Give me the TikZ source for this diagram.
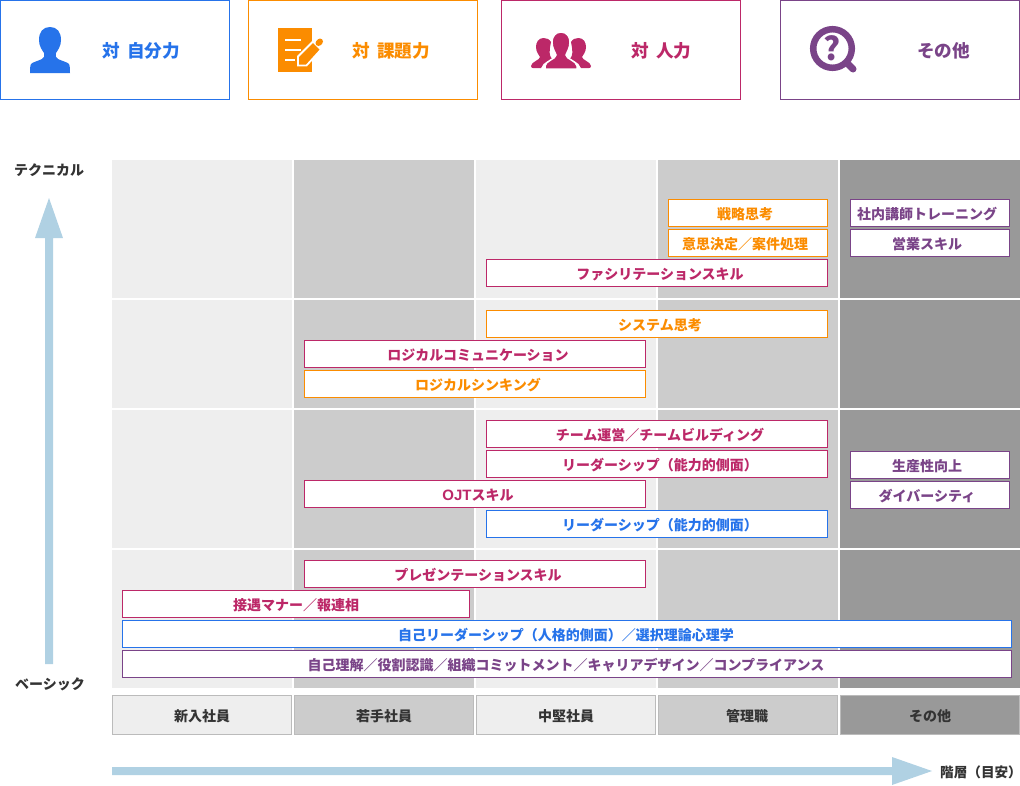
\documentclass[tikz,border=0pt]{standalone}
\usepackage{fontspec}
\setmainfont{Noto Sans CJK JP}
\newfontfamily\latinbold{Liberation Sans}
\definecolor{cblue}{HTML}{2673EA}
\definecolor{corange}{HTML}{FB8C00}
\definecolor{cmag}{HTML}{BC2868}
\definecolor{cpur}{HTML}{7A4488}
\definecolor{cdark}{HTML}{333333}
\definecolor{carrow}{HTML}{B0D1E3}
\definecolor{gl}{HTML}{EEEEEE}
\definecolor{gm}{HTML}{CCCCCC}
\definecolor{gd}{HTML}{999999}
\definecolor{gb}{HTML}{BBBBBB}
\newcommand{\dn}[1]{\raisebox{-1pt}[\height][\depth]{#1}}
\newcommand{\tR}[1]{\dn{\hspace{6pt}#1}}
\newcommand{\tL}[1]{\dn{#1\hspace{6pt}}}
\newcommand{\tC}[1]{\dn{#1}}
\newcommand{\tl}[1]{\dn{#1\hspace{2pt}}}
\tikzset{
  hdr/.style={fill=#1,draw=gb,line width=1pt,minimum width=179pt,minimum height=39pt,inner sep=0pt,text=cdark,font=\fontsize{14pt}{14pt}\selectfont\bfseries},
  tag/.style={fill=white,draw=#1,text=#1,line width=1pt,minimum height=27pt,inner sep=0pt,font=\fontsize{14pt}{14pt}\selectfont\bfseries},
  legend/.style={fill=white,draw=#1,line width=1pt,minimum height=99pt,inner sep=0pt},
  legtext/.style={text=#1,inner sep=0pt,font=\fontsize{17.6pt}{17.6pt}\selectfont\bfseries},
  lab/.style={text=cdark,inner sep=0pt,font=\fontsize{14pt}{14pt}\selectfont\bfseries},
}
\begin{document}
\begin{tikzpicture}[x=1pt,y=-1pt]
\useasboundingbox (0,0) rectangle (1020,785);
% grid
\foreach \yy/\hh in {160/138,300/108,410/138,550/138}{
  \foreach \xx/\cc in {112/gl,294/gm,476/gl,658/gm,840/gd}{
    \fill[\cc] (\xx,\yy) rectangle ++(180,\hh);
  }
}
% legend
\node[legend=cblue,minimum width=229pt] (l1) at (115,50) {};
\node[legend=corange,minimum width=229pt] (l2) at (363,50) {};
\node[legend=cmag,minimum width=239pt] (l3) at (621,50) {};
\node[legend=cpur,minimum width=239pt] (l4) at (900,50) {};
\node[legtext=cblue] (t1) at (141.5,50.5) {対\hspace{7pt}自分力};
\node[legtext=corange] (t2) at (391.5,50.5) {対\hspace{7pt}課題力};
\node[legtext=cmag] (t3) at (661.5,50.5) {対\hspace{7pt}人力};
\node[legtext=cpur] (t4) at (943.5,50.5) {その他};
% person icon
\fill[cblue] (50,27) .. controls (43,27) and (39,32) .. (39,40)
  .. controls (39,46) and (42,50) .. (44,53) .. controls (45,56) and (44,58) .. (42,59)
  .. controls (38,61) and (33,62) .. (31,64) .. controls (30,66) and (30,70) .. (30,73)
  -- (70,73) .. controls (70,70) and (70,66) .. (69,64) .. controls (67,62) and (62,61) .. (58,59)
  .. controls (56,58) and (55,56) .. (56,53) .. controls (58,50) and (61,46) .. (61,40)
  .. controls (61,32) and (57,27) .. (50,27) -- cycle;
% document icon
\fill[corange] (278,28) rectangle (312,72);
\fill[white] (285,39) rectangle (301,41);
\fill[white] (285,49) rectangle (301,51);
\fill[white] (285,59) rectangle (295,61);
\draw[white,fill=corange,line width=1.8pt,line join=miter] (298,65.5) -- (298,56.5) -- (313,41.5) -- (321,49.5) -- (306.5,65.5) -- cycle;
\draw[corange,line width=6pt,line cap=round] (318.5,43) -- (320,41.5);
% group icon
\fill[cmag] (543.5,38) .. controls (538,38) and (536,43) .. (536,47) .. controls (536,52) and (539,55) .. (540,57)
  .. controls (540,60) and (531,62) .. (531,66) .. controls (531,67.5) and (532,68) .. (533,68) -- (541,68)
  .. controls (542,65) and (543,63) .. (552,59) .. controls (549,55) and (549,52) .. (551,42)
  .. controls (549,39) and (547,38) .. (543.5,38) -- cycle;
\fill[cmag] (578.5,38) .. controls (584,38) and (586,43) .. (586,47) .. controls (586,52) and (583,55) .. (582,57)
  .. controls (582,60) and (591,62) .. (591,66) .. controls (591,67.5) and (590,68) .. (589,68) -- (581,68)
  .. controls (580,65) and (579,63) .. (570,59) .. controls (573,55) and (573,52) .. (571,42)
  .. controls (573,39) and (575,38) .. (578.5,38) -- cycle;
\draw[white,line width=1.5pt,fill=cmag] (561,32) .. controls (555,32) and (552,37) .. (552,42) .. controls (552,48) and (555,52) .. (556,55)
  .. controls (556,59) and (545,61) .. (545,66) -- (545,69) -- (577,69) -- (577,66)
  .. controls (577,61) and (566,59) .. (566,55) .. controls (567,52) and (570,48) .. (570,42)
  .. controls (570,37) and (567,32) .. (561,32) -- cycle;
% magnifier icon
\draw[cpur,line width=7pt,line cap=round] (847,63) -- (853,69);
\draw[cpur,line width=6.5pt,fill=white] (832.5,48.5) circle (19.3);
\node[text=cpur,inner sep=0pt,font=\fontsize{32pt}{32pt}\selectfont\bfseries] (q) at (832,48.5) {?};
% tags
\node[tag=corange,minimum width=159pt] (a1) at (748,213) {\tL{戦略思考}};
\node[tag=corange,minimum width=159pt] (a2) at (748,243) {\tL{意思決定／案件処理}};
\node[tag=cmag,minimum width=341pt] (a3) at (657,273) {\tR{ファシリテーションスキル}};
\node[tag=cpur,minimum width=159pt] (a4) at (930,213) {\tL{社内講師トレーニング}};
\node[tag=cpur,minimum width=159pt] (a5) at (930,243) {\tL{営業スキル}};
\node[tag=corange,minimum width=341pt] (b1) at (657,324) {\tR{システム思考}};
\node[tag=cmag,minimum width=341pt] (b2) at (475,354) {\tR{ロジカルコミュニケーション}};
\node[tag=corange,minimum width=341pt] (b3) at (475,384) {\tR{ロジカルシンキング}};
\node[tag=cmag,minimum width=341pt] (c1) at (657,434) {\tR{チーム運営／チームビルディング}};
\node[tag=cmag,minimum width=341pt] (c2) at (657,464) {\tR{リーダーシップ（能力的側面）}};
\node[tag=cmag,minimum width=341pt] (c3) at (475,494) {\tR{{\latinbold\fontsize{15pt}{15pt}\selectfont OJT}スキル}};
\node[tag=cblue,minimum width=341pt] (c4) at (657,524) {\tR{リーダーシップ（能力的側面）}};
\node[tag=cpur,minimum width=159pt] (c5) at (930,465) {\tL{生産性向上}};
\node[tag=cpur,minimum width=159pt] (c6) at (930,495) {\tL{ダイバーシティ}};
\node[tag=cmag,minimum width=341pt] (d1) at (475,574) {\tR{プレゼンテーションスキル}};
\node[tag=cmag,minimum width=347pt] (d2) at (296,604) {\tC{接遇マナー／報連相}};
\node[tag=cblue,minimum width=889pt] (d3) at (567,634) {\tl{自己リーダーシップ（人格的側面）／選択理論心理学}};
\node[tag=cpur,minimum width=889pt] (d4) at (567,664) {\tl{自己理解／役割認識／組織コミットメント／キャリアデザイン／コンプライアンス}};
% header row
\node[hdr=gl] (h1) at (202,715) {\tC{新入社員}};
\node[hdr=gm] (h2) at (384,715) {\tC{若手社員}};
\node[hdr=gl] (h3) at (566,715) {\tC{中堅社員}};
\node[hdr=gm] (h4) at (748,715) {\tl{管理職}};
\node[hdr=gd] (h5) at (930,715) {\tC{その他}};
% arrows
\fill[carrow] (45,664) -- (45,238) -- (35,238) -- (49,198) -- (63,238) -- (53,238) -- (53,664) -- cycle;
\fill[carrow] (112,767) -- (892,767) -- (892,757) -- (932,771) -- (892,785) -- (892,775) -- (112,775) -- cycle;
% labels
\node[lab] (y1) at (49,170) {テクニカル};
\node[lab] (y2) at (50,684) {ベーシック};
\node[lab,anchor=west,font=\fontsize{13.6pt}{13.6pt}\selectfont\bfseries] (x1) at (940,772) {階層（目安）\hspace{-7pt}};
\end{tikzpicture}
\end{document}
